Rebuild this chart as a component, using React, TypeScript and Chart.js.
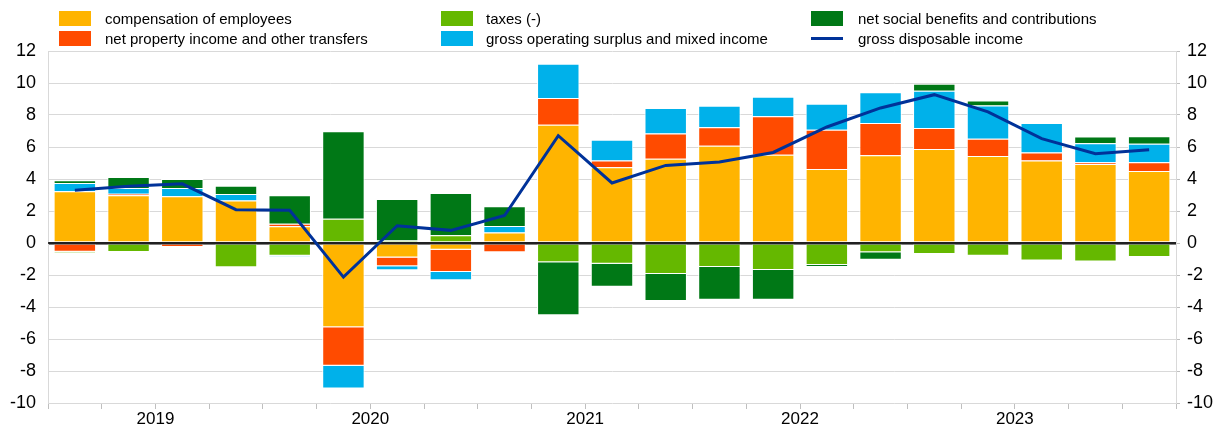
import React, { useEffect, useRef } from 'react';
import { Chart, registerables } from 'chart.js';

Chart.register(...registerables);

const categories = [
  '2019Q1', '2019Q2', '2019Q3', '2019Q4',
  '2020Q1', '2020Q2', '2020Q3', '2020Q4',
  '2021Q1', '2021Q2', '2021Q3', '2021Q4',
  '2022Q1', '2022Q2', '2022Q3', '2022Q4',
  '2023Q1', '2023Q2', '2023Q3', '2023Q4',
  '2024Q1',
];

const compensation = [3.23, 2.98, 2.92, 2.66, 1.04, -5.27, -0.9, -0.42, 0.65, 7.39, 4.73, 5.27, 6.08, 5.52, 4.62, 5.48, 5.87, 5.44, 5.16, 4.93, 4.5];
const propertyIncome = [-0.54, 0.1, -0.25, 0, 0.16, -2.4, -0.56, -1.39, -0.58, 1.67, 0.43, 1.58, 1.15, 2.4, 2.46, 2.02, 1.32, 1.08, 0.5, 0.12, 0.54];
const taxes = [-0.08, -0.56, 0, -1.52, -0.8, 1.52, 0.15, 0.48, 0, -1.21, -1.29, -1.94, -1.5, -1.69, -1.38, -0.58, -0.69, -0.79, -1.1, -1.15, -0.88];
const operatingSurplus = [0.52, 0.35, 0.51, 0.4, -0.05, -1.43, -0.25, -0.52, 0.42, 2.14, 1.3, 1.59, 1.35, 1.22, 1.63, 1.92, 2.33, 2.08, 1.84, 1.19, 1.17];
const socialBenefits = [0.17, 0.7, 0.57, 0.52, 1.78, 5.46, 2.6, 2.64, 1.22, -3.31, -1.44, -1.69, -2.04, -1.85, -0.1, -0.46, 0.44, 0.31, 0, 0.42, 0.46];
const disposableIncome = [3.3, 3.55, 3.7, 2.08, 2.05, -2.13, 1.08, 0.79, 1.72, 6.71, 3.75, 4.85, 5.06, 5.66, 7.25, 8.44, 9.27, 8.2, 6.52, 5.58, 5.83];

const yTicks = { min: -10, max: 12, step: 2 };

const FONT = '"Liberation Sans", Arial, Helvetica, sans-serif';

const COLORS = {
  comp: '#FFB400',
  prop: '#FF4B00',
  tax: '#65B800',
  gos: '#00B1EA',
  soc: '#007816',
  gdi: '#003299',
};

// year labels sit on the boundary before each year's third quarter
const yearAt = new Map<number, string>();
categories.forEach((c, i) => {
  if (c.endsWith('Q3')) yearAt.set(i, c.slice(0, 4));
});

const zeroLinePlugin = {
  id: 'zeroLine',
  beforeDatasetDraw(chart: any, args: any) {
    if (args.index !== 5) return;
    const { ctx, chartArea, scales } = chart;
    const y = scales.y.getPixelForValue(0);
    ctx.save();
    ctx.strokeStyle = '#000000';
    ctx.lineWidth = 1.6;
    ctx.beginPath();
    ctx.moveTo(chartArea.left, y);
    ctx.lineTo(chartArea.right, y);
    ctx.stroke();
    ctx.restore();
  },
};

type LegendItem = { label: string; color: string; kind: 'box' | 'line'; col: number; row: number };

const legendItems: LegendItem[] = [
  { label: 'compensation of employees', color: COLORS.comp, kind: 'box', col: 0, row: 0 },
  { label: 'net property income and other transfers', color: COLORS.prop, kind: 'box', col: 0, row: 1 },
  { label: 'taxes (-)', color: COLORS.tax, kind: 'box', col: 1, row: 0 },
  { label: 'gross operating surplus and mixed income', color: COLORS.gos, kind: 'box', col: 1, row: 1 },
  { label: 'net social benefits and contributions', color: COLORS.soc, kind: 'box', col: 2, row: 0 },
  { label: 'gross disposable income', color: COLORS.gdi, kind: 'line', col: 2, row: 1 },
];

const colLeft = [59, 441, 811];
const colGap = [14, 13, 15];
const rowTop = [11, 31];

export default function App() {
  const canvasRef = useRef<HTMLCanvasElement | null>(null);

  useEffect(() => {
    if (!canvasRef.current) return;
    const barBase = {
      type: 'bar' as const,
      stack: 'components',
      order: 1,
      borderColor: '#ffffff',
      borderWidth: 1,
      xAxisID: 'x',
      yAxisID: 'y',
    };
    const chart = new Chart(canvasRef.current, {
      type: 'bar',
      data: {
        labels: categories,
        datasets: [
          { ...barBase, label: 'compensation of employees', data: compensation, backgroundColor: COLORS.comp },
          { ...barBase, label: 'net property income and other transfers', data: propertyIncome, backgroundColor: COLORS.prop },
          { ...barBase, label: 'taxes (-)', data: taxes, backgroundColor: COLORS.tax },
          { ...barBase, label: 'gross operating surplus and mixed income', data: operatingSurplus, backgroundColor: COLORS.gos },
          { ...barBase, label: 'net social benefits and contributions', data: socialBenefits, backgroundColor: COLORS.soc },
          {
            type: 'line' as const,
            label: 'gross disposable income',
            data: disposableIncome,
            stack: 'gdi',
            order: 0,
            borderColor: COLORS.gdi,
            backgroundColor: COLORS.gdi,
            borderWidth: 3,
            pointRadius: 0,
            tension: 0,
            fill: false,
            xAxisID: 'x',
            yAxisID: 'y',
          } as any,
        ],
      },
      options: {
        animation: false,
        responsive: false,
        layout: { padding: { top: 51, bottom: 0, left: 0, right: 0 } },
        plugins: {
          legend: { display: false },
          tooltip: { enabled: false },
        },
        datasets: {
          bar: { categoryPercentage: 1, barPercentage: 0.79 },
        },
        scales: {
          x: {
            type: 'category',
            display: false,
            stacked: true,
            offset: true,
          },
          x2: {
            type: 'linear',
            position: 'bottom',
            min: 0,
            max: categories.length,
            offset: false,
            afterFit(s: any) {
              s.height = 25;
            },
            grid: { offset: false, drawOnChartArea: false, drawTicks: true, tickLength: 6, color: '#bfbfbf' },
            border: { display: false },
            ticks: {
              stepSize: 1,
              maxTicksLimit: 100,
              autoSkip: false,
              maxRotation: 0,
              padding: 0,
              color: '#000000',
              font: { family: FONT, size: 17 },
              callback: (v: any) => yearAt.get(Number(v)) ?? '',
            },
          },
          y: {
            position: 'left',
            stacked: true,
            min: yTicks.min,
            max: yTicks.max,
            afterFit(s: any) {
              s.width = 48;
            },
            ticks: {
              stepSize: yTicks.step,
              padding: 12,
              color: '#000000',
              font: { family: FONT, size: 18 },
            },
            grid: {
              drawTicks: false,
              color: (ctx: any) => (ctx.tick && ctx.tick.value === 0 ? '#7f7f7f' : '#d9d9d9'),
              lineWidth: (ctx: any) => (ctx.tick && ctx.tick.value === 0 ? 3 : 1),
            },
            border: { color: '#d9d9d9' },
          },
          y2: {
            position: 'right',
            min: yTicks.min,
            max: yTicks.max,
            afterFit(s: any) {
              s.width = 48;
            },
            ticks: {
              stepSize: yTicks.step,
              padding: 7,
              color: '#000000',
              font: { family: FONT, size: 18 },
            },
            grid: { drawOnChartArea: false, drawTicks: true, tickLength: 4, color: '#bfbfbf' },
            border: { color: '#d9d9d9' },
          },
        },
      } as any,
      plugins: [zeroLinePlugin],
    });
    return () => chart.destroy();
  }, []);

  return (
    <div
      style={{
        position: 'fixed',
        left: 0,
        top: 0,
        width: 1224,
        height: 428,
        background: '#ffffff',
        overflow: 'hidden',
      }}
    >
      <canvas ref={canvasRef} width={1224} height={428} style={{ position: 'absolute', left: 0, top: 0 }} />
      {legendItems.map((it) => (
        <div
          key={it.label}
          style={{
            position: 'absolute',
            left: colLeft[it.col],
            top: rowTop[it.row],
            height: 15,
            display: 'flex',
            alignItems: 'center',
            fontFamily: FONT,
            fontSize: 15,
            color: '#000000',
            whiteSpace: 'nowrap',
          }}
        >
          {it.kind === 'box' ? (
            <span style={{ display: 'inline-block', width: 32, height: 15, background: it.color, flex: 'none' }} />
          ) : (
            <span style={{ display: 'inline-block', width: 32, height: 15, position: 'relative', flex: 'none' }}>
              <span
                style={{
                  position: 'absolute',
                  left: 0,
                  top: 6,
                  width: 32,
                  height: 3,
                  background: it.color,
                }}
              />
            </span>
          )}
          <span style={{ marginLeft: colGap[it.col] }}>{it.label}</span>
        </div>
      ))}
    </div>
  );
}
